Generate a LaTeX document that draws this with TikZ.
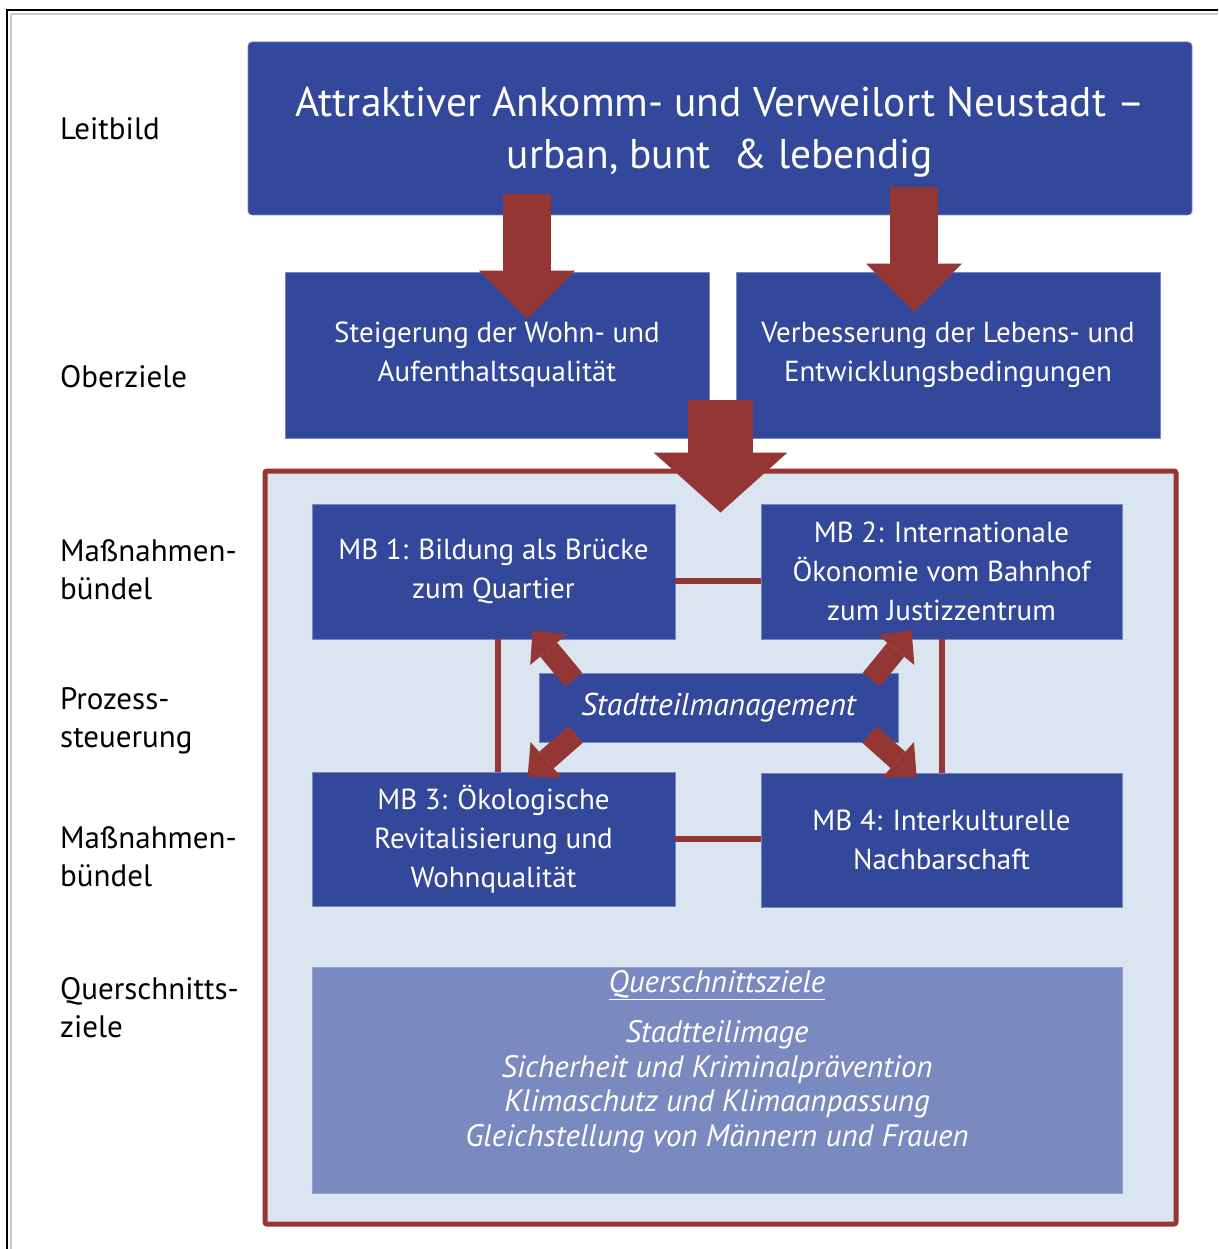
\documentclass[tikz,border=0pt]{standalone}
\usepackage{fontspec}
\setmainfont{PT Sans}
\usetikzlibrary{arrows.meta,positioning,calc}
\definecolor{deepblue}{HTML}{33479B}
\definecolor{darkred}{HTML}{943634}
\definecolor{paleblue}{HTML}{DBE5F1}
\definecolor{softblue}{HTML}{7A8AC1}
\tikzset{
  bluebox/.style={fill=deepblue, draw=deepblue!65!white, line width=0.8pt,
    text=white, align=center, inner sep=0pt, font=\fontsize{29}{39}\selectfont},
  sidelabel/.style={anchor=west, align=left, inner sep=0pt, font=\fontsize{31}{38}\selectfont},
  link/.style={draw=darkred, line width=6pt},
  fatarr/.style={draw=darkred, line width=48pt,
    -{Triangle[length=48pt, width=96pt, line width=0pt]}},
  hugearr/.style={draw=darkred, line width=65pt,
    -{Triangle[length=60pt, width=134pt, line width=0pt]}},
  diagarr/.style={draw=darkred, line width=22pt,
    -{Triangle[length=25pt, width=48pt, line width=0pt]}}
}

\begin{document}
\begin{tikzpicture}[x=1pt,y=-1pt]
  \useasboundingbox (0,0) rectangle (1218,1249);
  \draw[line width=2pt] (7,1249) -- (7,10) -- (1218,10);
  \draw[black!20, line width=1.5pt] (11,1249) -- (11,14) -- (1218,14);

  % Leitbild und Oberziele
  \node[bluebox, rounded corners=4pt, minimum width=944pt, minimum height=173pt] (leit) at (720,128.5) {};
  \node[text=white, align=center, font=\fontsize{41.5}{52}\selectfont] (leittext)
    at ($(leit.center)+(0,4)$) {Attraktiver Ankomm- und Verweilort Neustadt –\\urban, bunt~ \& lebendig};
  \node[bluebox, minimum width=424pt, minimum height=166pt] (ob1) at (497,355)
    {Steigerung der Wohn- und\\Aufenthaltsqualität};
  \node[bluebox, minimum width=424pt, minimum height=166pt] (ob2) at (948,355)
    {Verbesserung der Lebens- und\\Entwicklungsbedingungen};

  % Rahmen
  \node[draw=darkred, fill=paleblue, line width=5pt, rounded corners=2pt,
    minimum width=911pt, minimum height=753pt] (frame) at (720.5,847.5) {};

  \node[bluebox, minimum width=363pt, minimum height=135pt] (mb1) at (493.5,571.5)
    {MB 1: Bildung als Brücke\\zum Quartier};
  \node[bluebox, minimum width=361pt, minimum height=135pt] (mb2) at (941.5,571.5)
    {MB 2: Internationale\\Ökonomie vom Bahnhof\\zum Justizzentrum};
  \node[bluebox, minimum width=363pt, minimum height=134pt] (mb3) at (493.5,839)
    {MB 3: Ökologische\\Revitalisierung und\\Wohnqualität};
  \node[bluebox, minimum width=361pt, minimum height=134pt] (mb4) at (941.5,840)
    {MB 4: Interkulturelle\\Nachbarschaft};
  \node[bluebox, minimum width=359pt, minimum height=69pt,
    font=\fontsize{31.5}{39}\selectfont\itshape] (stm) at (718.5,707.5) {Stadtteilmanagement};

  \draw[link] ([yshift=-9pt]mb1.east) -- ([yshift=-9pt]mb1.east -| mb2.west);
  \draw[link] (mb3.east) -- (mb3.east -| mb4.west);
  \draw[link] ([xshift=4pt]mb1.south) -- ([xshift=4pt]mb1.south |- mb3.north);
  \draw[link] (mb2.south) -- (mb4.north);

  \node[fill=softblue, draw=softblue!80!white, minimum width=810pt, minimum height=226pt]
    (qz) at (717,1080) {};
  \node[text=white, font=\fontsize{31}{34.5}\selectfont\itshape] (qzhead)
    at ($(qz.north)+(0,18)$) {\underline{Querschnittsziele}};
  \node[text=white, align=center, font=\fontsize{31}{34.5}\selectfont\itshape] (qzlist)
    at ($(qz.north)+(0,120)$)
    {Stadtteilimage\\Sicherheit und Kriminalprävention\\Klimaschutz und Klimaanpassung\\Gleichstellung von Männern und Frauen};

  % Pfeile
  \draw[fatarr] ($(ob1.north)+(30,-78)$) -- ($(ob1.north)+(30,47)$);
  \draw[fatarr] ($(ob2.north)+(-34,-85)$) -- ($(ob2.north)+(-34,40)$);
  \draw[hugearr] ($(frame.north)+(0,-69)$) -- ($(frame.north)+(0,44)$);
  \draw[diagarr] ($(stm.north west)+(35,7)$) -- ($(mb1.south west)+(221,-9)$);
  \draw[diagarr] ($(stm.north east)+(-27,7)$) -- ($(mb2.south west)+(151,-9)$);
  \draw[diagarr] ($(stm.south west)+(37,-8)$) -- ($(mb3.north west)+(216,5)$);
  \draw[diagarr] ($(stm.south east)+(-29,-8)$) -- ($(mb4.north west)+(156,4)$);

  % Ebenen
  \node[sidelabel] (lbl1) at (60,129) {Leitbild};
  \node[sidelabel] (lbl2) at (60,377) {Oberziele};
  \node[sidelabel] (lbl3) at (60,570) {Maßnahmen-\\bündel};
  \node[sidelabel] (lbl4) at (60,721) {Prozess-\\steuerung};
  \node[sidelabel] (lbl5) at (60,857) {Maßnahmen-\\bündel};
  \node[sidelabel] (lbl6) at (60,1008) {Querschnitts-\\ziele};
\end{tikzpicture}
\end{document}
